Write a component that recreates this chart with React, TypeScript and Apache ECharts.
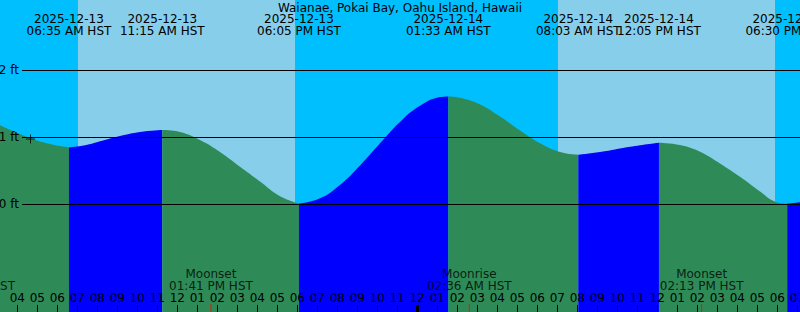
import React, { useEffect, useRef } from 'react';
import * as echarts from 'echarts';

// Time is in hours since 2025-12-13 00:00 HST; heights in feet.
const chartTitle = 'Waianae, Pokai Bay, Oahu Island, Hawaii';
const xMin = 3.135;
const xMax = 43.135;
const yMin = -1.607;
const yMax = 3.049;

// Tide readings
const readingHours = [
  3.135, 4.635, 5.635, 6.583,
  7.385, 8.135, 9.135, 10.135, 11.25,
  12.135, 13.135, 14.135, 15.135, 16.135, 17.135, 18.083,
  19.135, 20.135, 21.135, 22.135, 23.135, 24.135, 25.135, 25.55,
  26.135, 27.135, 28.135, 29.135, 30.135, 31.135, 32.05,
  33.135, 34.635, 36.083,
  37.135, 38.135, 39.135, 40.135, 41.135, 41.885, 42.5,
  43.135,
];
const readingFeet = [
  1.18, 0.99, 0.9, 0.85,
  0.88, 0.94, 1.02, 1.08, 1.11,
  1.08, 0.96, 0.78, 0.56, 0.34, 0.12, 0.01,
  0.09, 0.29, 0.58, 0.91, 1.23, 1.47, 1.6, 1.61,
  1.59, 1.49, 1.31, 1.1, 0.91, 0.78, 0.74,
  0.78, 0.86, 0.92,
  0.885, 0.785, 0.61, 0.41, 0.19, 0.04, 0.01,
  0.03,
];

// High / low tide events
const extremeHours = [6.583, 11.25, 18.083, 25.55, 32.05, 36.083, 42.5];
const extremeDates = ['2025-12-13', '2025-12-13', '2025-12-13', '2025-12-14', '2025-12-14', '2025-12-14', '2025-12-14'];
const extremeTimes = ['06:35 AM HST', '11:15 AM HST', '06:05 PM HST', '01:33 AM HST', '08:03 AM HST', '12:05 PM HST', '06:30 PM HST'];

// Daylight
const sunriseHours = [7.035, 31.035];
const sunsetHours = [17.885, 41.885];

// Moon events
const moonHours = [1.77, 13.683, 26.6, 38.217];
const moonEvents = ['Moonrise', 'Moonset', 'Moonrise', 'Moonset'];
const moonTimes = ['01:46 AM HST', '01:41 PM HST', '02:36 AM HST', '02:13 PM HST'];

// Current time mark
const nowHour = 4.66;
const nowFeet = 0.975;

// Height grid lines
const gridLineFeet = [0, 1, 2];

// Hour ticks
const hourTicks = Array.from({ length: 41 }, (_, i) => 3 + i);
const midnightTicks = [24];

const NIGHT = '#00BFFF';
const DAY = '#87CEEB';
const FALLING = '#2E8B57';
const RISING = '#0000FF';
const FONT = 'DejaVu Sans';
const FS = 12;

function hourLabel(h: number): string {
  const hh = ((Math.round(h) % 12) + 12) % 12 || 12;
  return hh < 10 ? '0' + hh : String(hh);
}

function buildOption() {
  const pts = readingHours.map((h, i) => [h, readingFeet[i]]);
  const cuts = extremeHours.map((e) => readingHours.findIndex((h) => Math.abs(h - e) < 1e-6));
  const bounds = [0, ...cuts, readingHours.length - 1];
  const segSeries: any[] = [];
  for (let i = 1; i < bounds.length; i++) {
    const seg = pts.slice(bounds[i - 1], bounds[i] + 1);
    if (seg.length < 2) continue;
    const rising = (seg[seg.length - 1][1] as number) > (seg[0][1] as number);
    segSeries.push({
      type: 'line',
      data: seg,
      smooth: 0.45,
      symbol: 'none',
      z: 2,
      lineStyle: { width: 0, opacity: 0 },
      areaStyle: { color: rising ? RISING : FALLING, opacity: 1, origin: 'start' },
      silent: true,
    });
  }

  const lineStartHour = 4.235;

  return {
    animation: false,
    backgroundColor: NIGHT,
    textStyle: { fontFamily: FONT, fontSize: FS, color: '#000' },
    title: {
      text: chartTitle,
      left: 'center',
      top: 1.5,
      padding: 0,
      textStyle: { fontFamily: FONT, fontSize: FS, fontWeight: 'normal', color: '#000', lineHeight: 12 },
    },
    grid: { left: 0, right: 0, top: 0, bottom: 0, containLabel: false, outerBoundsMode: 'none' },
    xAxis: [
      {
        type: 'value',
        min: xMin,
        max: xMax,
        position: 'bottom',
        z: 10,
        axisLine: { show: false, onZero: false },
        splitLine: { show: false },
        axisTick: {
          show: true,
          inside: true,
          length: 7,
          customValues: hourTicks,
          lineStyle: { color: '#000', width: 1 },
        },
        axisLabel: {
          show: true,
          inside: true,
          margin: 8,
          hideOverlap: false,
          showMinLabel: true,
          showMaxLabel: true,
          customValues: hourTicks,
          formatter: (v: number) => hourLabel(v),
          color: '#000',
          fontFamily: FONT,
          fontSize: FS,
          lineHeight: 12,
        },
      },
      {
        type: 'value',
        min: xMin,
        max: xMax,
        position: 'top',
        z: 10,
        axisLine: { show: false, onZero: false },
        splitLine: { show: false },
        axisTick: { show: false },
        axisLabel: {
          show: true,
          inside: true,
          margin: 12.5,
          hideOverlap: false,
          showMinLabel: true,
          showMaxLabel: true,
          customValues: extremeHours,
          formatter: (v: number) => {
            const i = extremeHours.findIndex((e) => Math.abs(e - v) < 1e-6);
            return i < 0 ? '' : extremeDates[i] + '\n' + extremeTimes[i];
          },
          lineHeight: 12.5,
          color: '#000',
          fontFamily: FONT,
          fontSize: FS,
        },
      },
      {
        type: 'value',
        min: xMin,
        max: xMax,
        position: 'bottom',
        z: 11,
        axisLine: { show: false, onZero: false },
        splitLine: { show: false },
        axisLabel: { show: false },
        axisTick: {
          show: true,
          inside: true,
          length: 7,
          customValues: midnightTicks,
          lineStyle: { color: '#000', width: 3 },
        },
      },
    ],
    yAxis: {
      type: 'value',
      min: yMin,
      max: yMax,
      show: false,
      splitLine: { show: false },
    },
    series: [
      {
        type: 'line',
        data: pts,
        symbol: 'none',
        z: 1,
        lineStyle: { opacity: 0 },
        silent: true,
        markArea: {
          silent: true,
          itemStyle: { color: DAY, opacity: 1 },
          data: sunriseHours.map((s, i) => [{ xAxis: s }, { xAxis: sunsetHours[i] }]),
        },
      },
      ...segSeries,
      {
        type: 'line',
        data: [],
        z: 3,
        silent: true,
        markLine: {
          silent: true,
          symbol: 'none',
          animation: false,
          lineStyle: { color: '#000', width: 1, type: 'solid' },
          label: {
            show: true,
            position: 'start',
            distance: 3,
            color: '#000',
            fontFamily: FONT,
            fontSize: FS,
            formatter: (p: any) => `${p.value} ft`,
          },
          data: gridLineFeet.map((v) => [
            { coord: [lineStartHour, v], value: v },
            { coord: [xMax, v], value: v },
          ]),
        },
      },
      {
        type: 'scatter',
        data: [[nowHour, nowFeet]],
        symbol: 'path://M4 0H5V9H4ZM0 4H9V5H0Z',
        symbolSize: 9,
        itemStyle: { color: '#000' },
        z: 4,
        silent: true,
      },
      {
        type: 'scatter',
        clip: false,
        data: moonHours.map((h) => [h, yMin]),
        symbol: 'rect',
        symbolSize: [1, 16],
        itemStyle: { color: '#FF0000' },
        z: 12,
        silent: true,
        label: {
          show: true,
          position: 'top',
          distance: 12.5,
          color: '#000',
          fontFamily: FONT,
          fontSize: FS,
          lineHeight: 12,
          align: 'center',
          formatter: (p: any) => moonEvents[p.dataIndex] + '\n' + moonTimes[p.dataIndex],
        },
      },
    ],
  };
}

export default function App() {
  const ref = useRef<HTMLDivElement>(null);
  useEffect(() => {
    if (!ref.current) return;
    const chart = echarts.init(ref.current, undefined, { renderer: 'svg' });
    chart.setOption(buildOption() as any);
    return () => chart.dispose();
  }, []);
  return (
    <div
      ref={ref}
      style={{ position: 'absolute', left: 0, top: 0, width: 800, height: 312 }}
    />
  );
}
